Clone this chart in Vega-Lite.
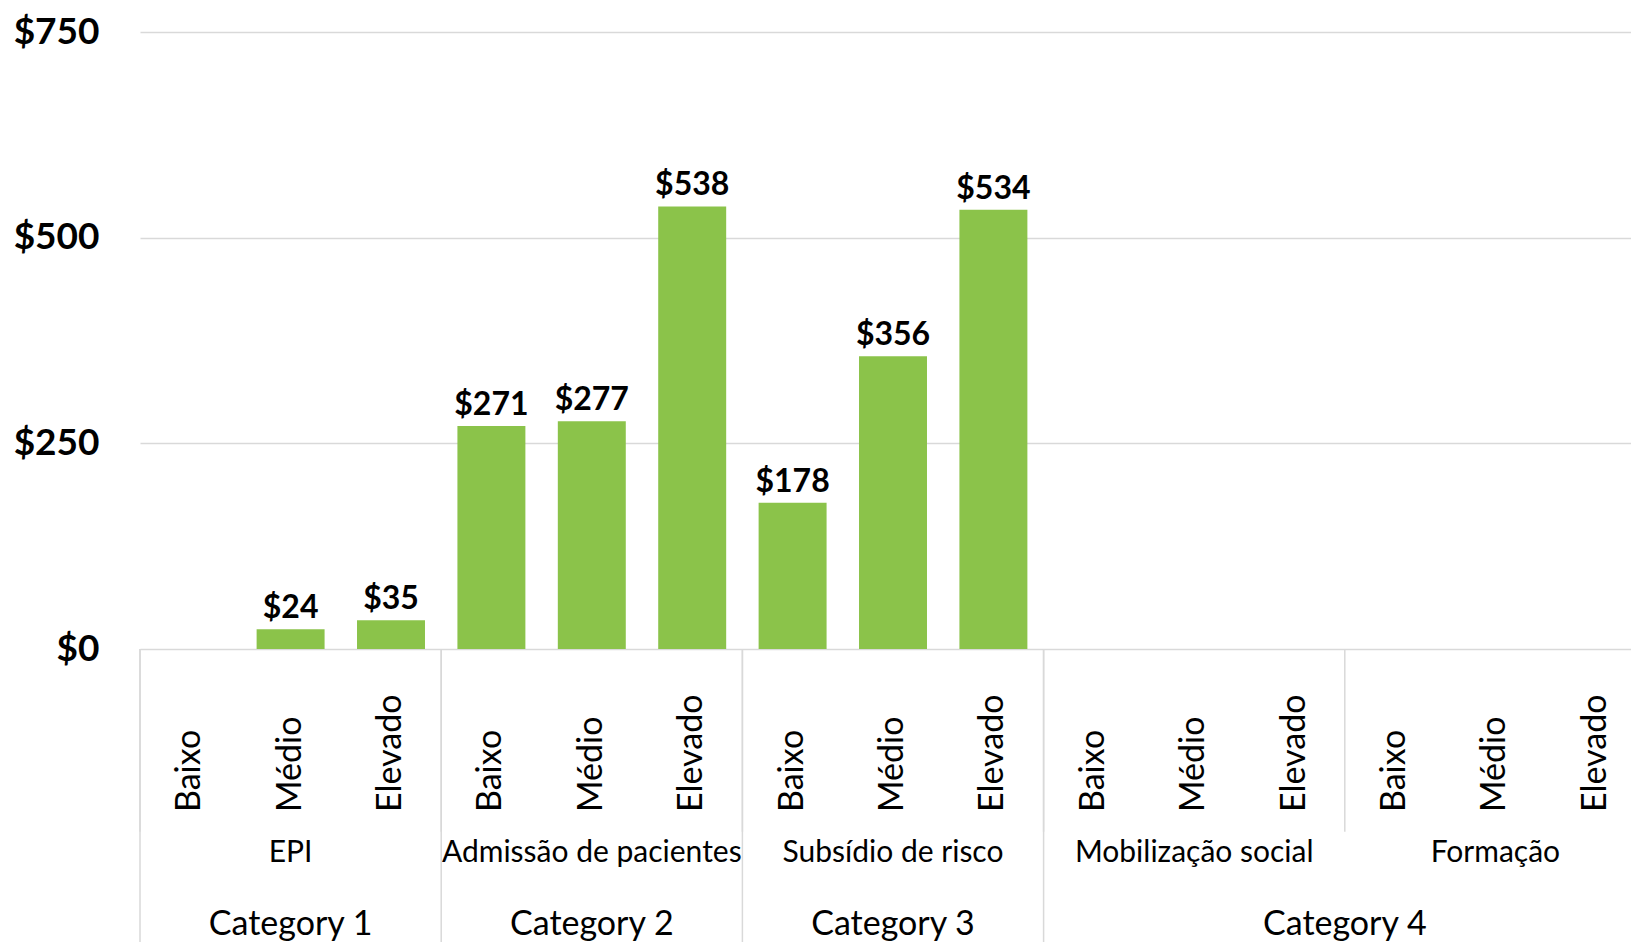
{
  "$schema": "https://vega.github.io/schema/vega-lite/v6.json",
  "autosize": {"type": "none"},
  "padding": {"left": 140, "top": 32, "right": 0, "bottom": 0},
  "width": 1491,
  "height": 910,
  "background": "white",
  "config": {"view": {"stroke": null}, "font": "Lato"},
  "data": {
    "values": [
      {"category": "Category 1", "item": "EPI", "level": "Baixo", "value": null},
      {"category": "Category 1", "item": "EPI", "level": "Médio", "value": 24},
      {"category": "Category 1", "item": "EPI", "level": "Elevado", "value": 35},
      {"category": "Category 2", "item": "Admissão de pacientes", "level": "Baixo", "value": 271},
      {"category": "Category 2", "item": "Admissão de pacientes", "level": "Médio", "value": 277},
      {"category": "Category 2", "item": "Admissão de pacientes", "level": "Elevado", "value": 538},
      {"category": "Category 3", "item": "Subsídio de risco", "level": "Baixo", "value": 178},
      {"category": "Category 3", "item": "Subsídio de risco", "level": "Médio", "value": 356},
      {"category": "Category 3", "item": "Subsídio de risco", "level": "Elevado", "value": 534},
      {"category": "Category 4", "item": "Mobilização social", "level": "Baixo", "value": null},
      {"category": "Category 4", "item": "Mobilização social", "level": "Médio", "value": null},
      {"category": "Category 4", "item": "Mobilização social", "level": "Elevado", "value": null},
      {"category": "Category 4", "item": "Formação", "level": "Baixo", "value": null},
      {"category": "Category 4", "item": "Formação", "level": "Médio", "value": null},
      {"category": "Category 4", "item": "Formação", "level": "Elevado", "value": null}
    ]
  },
  "encoding": {
    "x": {
      "field": "item",
      "type": "nominal",
      "axis": null,
      "scale": {
        "domain": ["EPI", "Admissão de pacientes", "Subsídio de risco", "Mobilização social", "Formação"],
        "range": [0, 1506],
        "paddingInner": 0,
        "paddingOuter": 0
      }
    }
  },
  "layer": [
    {
      "transform": [{"filter": "isValid(datum.value)"}],
      "mark": {"type": "bar", "color": "#8BC34A"},
      "encoding": {
        "xOffset": {
          "field": "level",
          "type": "nominal",
          "scale": {"domain": ["Baixo", "Médio", "Elevado"], "paddingInner": 0.323, "paddingOuter": 0.1615}
        },
        "y": {
          "field": "value",
          "type": "quantitative",
          "scale": {"domain": [-356, 750], "nice": false, "zero": false},
          "axis": {
            "values": [0, 250, 500, 750],
            "format": "$.0f",
            "title": null,
            "domain": false,
            "ticks": false,
            "tickSize": 0,
            "labelPadding": 41,
            "labelFont": "Lato",
            "labelFontWeight": "bold",
            "labelFontSize": 37,
            "labelColor": "#000000",
            "gridColor": "#d9d9d9",
            "gridWidth": 1.5
          }
        },
        "y2": {"datum": 0}
      }
    },
    {
      "transform": [{"filter": "isValid(datum.value)"}],
      "mark": {"type": "text", "fontSize": 32, "fontWeight": "bold", "baseline": "alphabetic", "align": "center", "dy": -11, "color": "#000000"},
      "encoding": {
        "xOffset": {"field": "level", "type": "nominal"},
        "y": {"field": "value", "type": "quantitative"},
        "text": {"field": "value", "type": "quantitative", "format": "$.0f"}
      }
    },
    {
      "mark": {"type": "text", "fontSize": 34, "angle": 270, "align": "left", "baseline": "middle", "color": "#000000"},
      "encoding": {
        "xOffset": {"field": "level", "type": "nominal"},
        "y": {"datum": -198},
        "text": {"field": "level", "type": "nominal"}
      }
    },
    {
      "transform": [{"filter": "datum.level === 'Baixo'"}],
      "mark": {"type": "text", "fontSize": 30, "align": "center", "baseline": "middle", "color": "#000000"},
      "encoding": {
        "y": {"datum": -248},
        "text": {"field": "item", "type": "nominal"}
      }
    },
    {
      "transform": [{"filter": "datum.level === 'Baixo'"}],
      "mark": {"type": "rule", "color": "#d9d9d9", "strokeWidth": 1.5},
      "encoding": {
        "x": {"field": "item", "type": "nominal", "bandPosition": 0},
        "y": {"datum": 0},
        "y2": {"datum": -222}
      }
    },
    {
      "transform": [
        {"filter": "datum.level === 'Baixo'"},
        {"window": [{"op": "row_number", "as": "r"}], "groupby": ["category"]},
        {"filter": "datum.r === 1"}
      ],
      "mark": {"type": "rule", "color": "#d9d9d9", "strokeWidth": 1.5},
      "encoding": {
        "x": {"field": "item", "type": "nominal", "bandPosition": 0},
        "y": {"datum": 0},
        "y2": {"datum": -356}
      }
    },
    {
      "transform": [
        {"filter": "datum.level === 'Baixo'"},
        {"joinaggregate": [{"op": "count", "as": "n"}], "groupby": ["category"]},
        {"filter": "datum.n === 1"}
      ],
      "mark": {"type": "text", "fontSize": 34, "align": "center", "baseline": "middle", "color": "#000000"},
      "encoding": {
        "y": {"datum": -335},
        "text": {"field": "category", "type": "nominal"}
      }
    },
    {
      "transform": [
        {"filter": "datum.level === 'Baixo'"},
        {"window": [{"op": "row_number", "as": "r"}], "groupby": ["category"]},
        {"joinaggregate": [{"op": "count", "as": "n"}], "groupby": ["category"]},
        {"filter": "datum.n === 2 && datum.r === 2"}
      ],
      "mark": {"type": "text", "fontSize": 34, "align": "center", "baseline": "middle", "color": "#000000"},
      "encoding": {
        "x": {"field": "item", "type": "nominal", "bandPosition": 0},
        "y": {"datum": -335},
        "text": {"field": "category", "type": "nominal"}
      }
    }
  ]
}
